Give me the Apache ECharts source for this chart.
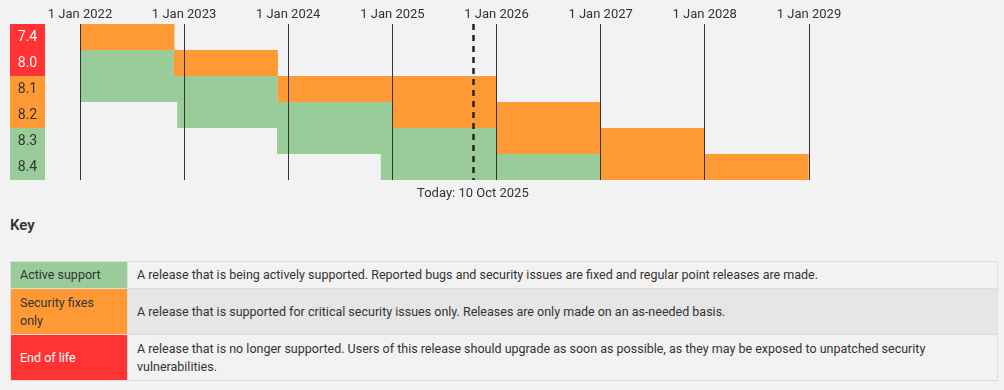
<!DOCTYPE html>
<html>
<head>
<meta charset="utf-8">
<script src="https://cdn.jsdelivr.net/npm/echarts@6/dist/echarts.min.js"></script>
<style>
  html, body { margin: 0; padding: 0; background: #f2f2f2; }
  body { width: 1004px; height: 390px; overflow: hidden; font-family: Roboto, "Liberation Sans", sans-serif; color: #333; }
  #chart { width: 1004px; height: 205px; }
  h3 { margin: 0; position: absolute; left: 10px; top: 214px; font-size: 15px; font-weight: 600; line-height: 22px; color: #333; }
  table { position: absolute; left: 10px; top: 261px; width: 988px; border-collapse: collapse; font-size: 12.5px; }
  td { border: 1px solid #ddd; padding: 0 9px; line-height: 18px; vertical-align: middle; }
  td.k { width: 98px; }
  td.d { padding-left: 9px; }
  tr.r1 td { height: 26px; }
  tr.r2 td, tr.r3 td { height: 45px; }
  tr.r2 td.d { background: #e6e6e6; }
  td.active { background: #9c9; }
  td.security { background: #f93; }
  td.eol { background: #f33; color: #fff; }
</style>
</head>
<body>
<div id="chart"></div>
<h3>Key</h3>
<table>
  <tr class="r1"><td class="k active">Active support</td><td class="d">A release that is being actively supported. Reported bugs and security issues are fixed and regular point releases are made.</td></tr>
  <tr class="r2"><td class="k security">Security fixes<br>only</td><td class="d">A release that is supported for critical security issues only. Releases are only made on an as-needed basis.</td></tr>
  <tr class="r3"><td class="k eol">End of life</td><td class="d">A release that is no longer supported. Users of this release should upgrade as soon as possible, as they may be exposed to unpatched security<br>vulnerabilities.</td></tr>
</table>
<script>
// ---- data ----
const versions      = ['7.4', '8.0', '8.1', '8.2', '8.3', '8.4'];
const releaseDates  = ['2019-11-28', '2020-11-26', '2021-11-25', '2022-12-08', '2023-11-23', '2024-11-21'];
const activeEnd     = ['2021-11-28', '2022-11-26', '2023-11-25', '2024-12-31', '2025-12-31', '2026-12-31'];
const securityEnd   = ['2022-11-28', '2023-11-26', '2025-12-31', '2026-12-31', '2027-12-31', '2028-12-31'];
const axisStart = '2022-01-01';
const axisEnd   = '2029-01-01';
const today     = '2025-10-10';
const todayLabel = 'Today: 10 Oct 2025';

const COLORS = { active: '#9c9', security: '#f93', eol: '#f33' };

function ts(s) { return echarts.time.parse(s).getTime(); }
const todayTs = ts(today);

const statusOf = versions.map((v, i) => {
  if (ts(securityEnd[i]) < todayTs) return 'eol';
  if (ts(activeEnd[i]) < todayTs) return 'security';
  return 'active';
});

const barData = [];
versions.forEach((v, i) => {
  barData.push({ value: [i, ts(releaseDates[i]), ts(activeEnd[i]), 'active'] });
  barData.push({ value: [i, ts(activeEnd[i]), ts(securityEnd[i]), 'security'] });
});

function renderItem(params, api) {
  const row = api.value(0);
  const p0 = api.coord([api.value(1), row]);
  const p1 = api.coord([api.value(2), row]);
  const h = api.size([0, 1])[1];
  const cs = params.coordSys;
  let x0 = Math.max(p0[0], cs.x);
  let x1 = Math.min(p1[0], cs.x + cs.width);
  if (x1 <= x0) return null;
  return {
    type: 'rect',
    shape: { x: x0, y: p0[1] - h / 2, width: x1 - x0, height: h },
    style: { fill: COLORS[api.value(3)] }
  };
}

const chart = echarts.init(document.getElementById('chart'), null, { renderer: 'canvas' });
const FONT = 'Roboto';
chart.setOption({
  animation: false,
  backgroundColor: '#f2f2f2',
  grid: { left: 80, top: 24, width: 729, height: 156, containLabel: false },
  xAxis: {
    type: 'time',
    position: 'top',
    min: ts(axisStart),
    max: ts(axisEnd),
    splitNumber: 7,
    minInterval: 365 * 24 * 3600 * 1000,
    maxInterval: 366 * 24 * 3600 * 1000,
    z: 10,
    axisLine: { show: false },
    axisTick: { show: false },
    minorTick: { show: false },
    splitLine: { show: true, lineStyle: { color: '#333', width: 1 } },
    axisLabel: {
      margin: 3,
      color: '#333',
      fontFamily: FONT,
      fontSize: 13,
      showMinLabel: true,
      showMaxLabel: true,
      hideOverlap: false,
      formatter: function (val) { return '1 Jan ' + new Date(val).getFullYear(); }
    }
  },
  yAxis: {
    type: 'category',
    data: versions,
    inverse: true,
    axisLine: { show: false },
    axisTick: { show: false },
    splitLine: { show: false },
    axisLabel: {
      margin: 35,
      formatter: function (v, i) { return '{' + statusOf[i] + '|' + v + '}'; },
      rich: {
        active:   { backgroundColor: COLORS.active,   color: '#333', width: 35, height: 26, lineHeight: 26, align: 'center', fontFamily: FONT, fontSize: 14 },
        security: { backgroundColor: COLORS.security, color: '#333', width: 35, height: 26, lineHeight: 26, align: 'center', fontFamily: FONT, fontSize: 14 },
        eol:      { backgroundColor: COLORS.eol,      color: '#fff', width: 35, height: 26, lineHeight: 26, align: 'center', fontFamily: FONT, fontSize: 14 }
      }
    }
  },
  series: [{
    type: 'custom',
    renderItem: renderItem,
    encode: { x: [1, 2], y: 0 },
    data: barData,
    markLine: {
      silent: true,
      symbol: ['none', 'none'],
      lineStyle: { color: '#222', width: 2.5, type: [6, 5] },
      label: {
        show: true,
        position: 'end',
        formatter: todayLabel,
        color: '#333',
        fontFamily: FONT,
        fontSize: 13,
        distance: 7
      },
      data: [{ xAxis: todayTs }]
    }
  }]
});
</script>
</body>
</html>
